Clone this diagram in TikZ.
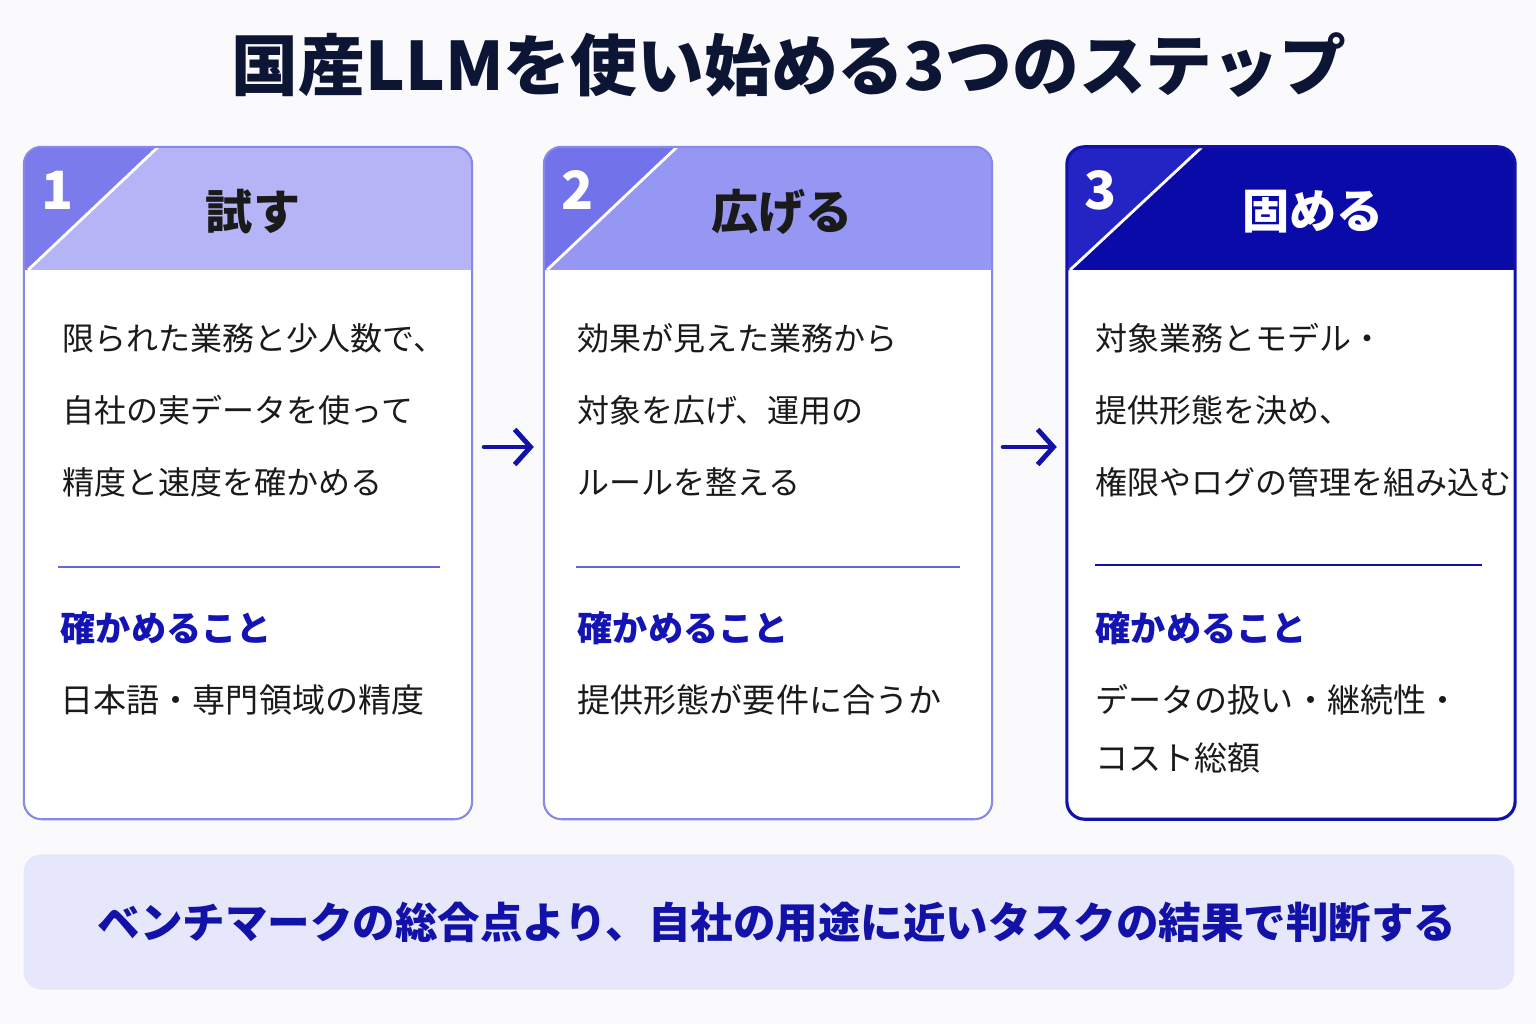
\documentclass[tikz,border=0pt]{standalone}
\usepackage{fontspec}
\setmainfont{Noto Sans CJK JP}
\usetikzlibrary{positioning,arrows.meta}
\definecolor{navy}{HTML}{0D1535}
\definecolor{ink}{HTML}{1A1A1A}
\definecolor{deep}{HTML}{1212A8}
\definecolor{checkblue}{HTML}{1414B4}
\definecolor{hdrA}{HTML}{B4B4F6}
\definecolor{tabA}{HTML}{7B7BEB}
\definecolor{hdrB}{HTML}{9696F3}
\definecolor{tabB}{HTML}{7272EA}
\definecolor{hdrC}{HTML}{0A0AA8}
\definecolor{tabC}{HTML}{2424C4}
\definecolor{rimA}{HTML}{8888EA}
\definecolor{sepA}{HTML}{6666DD}
\definecolor{bandfill}{HTML}{E7E7FB}
\definecolor{pagebg}{HTML}{FAFAFD}
\tikzset{
  card/.style={rectangle, rounded corners=5pt, minimum width=4.48cm, minimum height=6.72cm, inner sep=0pt, line width=0.6pt},
  num/.style={text=white, font=\fontsize{15}{15}\selectfont\bfseries},
  head/.style={font=\fontsize{13.4}{14}\selectfont\bfseries},
  body/.style={anchor=west, inner sep=0pt, text=ink, font=\fontsize{9.1}{11}\selectfont},
  detail/.style={body, font=\fontsize{9.4}{11}\selectfont},
  check/.style={anchor=west, inner sep=0pt, text=checkblue, font=\fontsize{10}{12}\selectfont\bfseries},
  flow/.style={-{Straight Barb[length=4.5pt,width=10pt]}, line width=1.4pt, line cap=round, deep},
}
\begin{document}
\begin{tikzpicture}[x=0.01cm,y=-0.01cm]
\fill[pagebg] (0,0) rectangle (1536,1024);
\node[text=navy, font=\fontsize{19}{20}\selectfont\bfseries] (ttl) at (789,65) {国産LLMを使い始める3つのステップ};

% step 1
\node[card, fill=white] (c1) at (248,483) {};
\begin{scope}
  \clip[rounded corners=5pt] (24,147) rectangle (472,819);
  \fill[hdrA] (24,147) rectangle (472,270);
  \fill[tabA] (24,147) -- (158,147) -- (28,270) -- (24,270) -- cycle;
  \draw[white, line width=0.8pt] (158,147) -- (28,270);
\end{scope}
\node[card, draw=rimA] at (c1) {};
\node[num] (n1) at (58,190) {1};
\node[head, text=ink] (h1) at (253,212) {試す};
\node[body] (b11) at (62,338) {限られた業務と少人数で、};
\node[body] (b12) at (62,410) {自社の実データを使って};
\node[body] (b13) at (62,482) {精度と速度を確かめる};
\draw[sepA, line width=0.6pt] (58,567) -- (440,567);
\node[check] (k1) at (60,628) {確かめること};
\node[detail] (d11) at (60,700) {日本語・専門領域の精度};

% step 2
\node[card, fill=white] (c2) at (768,483) {};
\begin{scope}
  \clip[rounded corners=5pt] (543,147) rectangle (993,819);
  \fill[hdrB] (543,147) rectangle (993,270);
  \fill[tabB] (543,147) -- (677,147) -- (547,270) -- (543,270) -- cycle;
  \draw[white, line width=0.8pt] (677,147) -- (547,270);
\end{scope}
\node[card, draw=rimA] at (c2) {};
\node[num] (n2) at (578,190) {2};
\node[head, text=ink] (h2) at (782,212) {広げる};
\node[body] (b21) at (577,338) {効果が見えた業務から};
\node[body] (b22) at (577,410) {対象を広げ、運用の};
\node[body] (b23) at (577,482) {ルールを整える};
\draw[sepA, line width=0.6pt] (576,567) -- (960,567);
\node[check] (k2) at (577,628) {確かめること};
\node[detail] (d21) at (577,700) {提供形態が要件に合うか};

% step 3
\node[card, fill=white] (c3) at (1291,483) {};
\begin{scope}
  \clip[rounded corners=5pt] (1066,147) rectangle (1516,819);
  \fill[hdrC] (1066,147) rectangle (1516,270);
  \fill[tabC] (1066,147) -- (1202,147) -- (1070,270) -- (1066,270) -- cycle;
  \draw[white, line width=0.8pt] (1202,147) -- (1070,270);
\end{scope}
\node[card, draw=deep, line width=0.9pt] at (c3) {};
\node[num] (n3) at (1101,190) {3};
\node[head, text=white] (h3) at (1313,212) {固める};
\node[body] (b31) at (1095,338) {対象業務とモデル・};
\node[body] (b32) at (1095,410) {提供形態を決め、};
\node[body] (b33) at (1095,482) {権限やログの管理を組み込む};
\draw[deep, line width=0.7pt] (1095,565) -- (1482,565);
\node[check] (k3) at (1095,628) {確かめること};
\node[detail] (d31) at (1095,700) {データの扱い・継続性・};
\node[detail] (d32) at (1095,758) {コスト総額};

% arrows between steps
\draw[flow] ([yshift=0.36cm, xshift=0.11cm]c1.east) -- ([yshift=0.36cm, xshift=-0.09cm]c2.west);
\draw[flow] ([yshift=0.36cm, xshift=0.10cm]c2.east) -- ([yshift=0.36cm, xshift=-0.09cm]c3.west);

% bottom note
\node[rectangle, rounded corners=5pt, fill=bandfill, minimum width=14.9cm, minimum height=1.35cm] (band) at (769,922) {};
\node[text=deep, font=\fontsize{12.1}{13}\selectfont\bfseries] (msg) at (777,922) {ベンチマークの総合点より、自社の用途に近いタスクの結果で判断する};
\end{tikzpicture}
\end{document}
